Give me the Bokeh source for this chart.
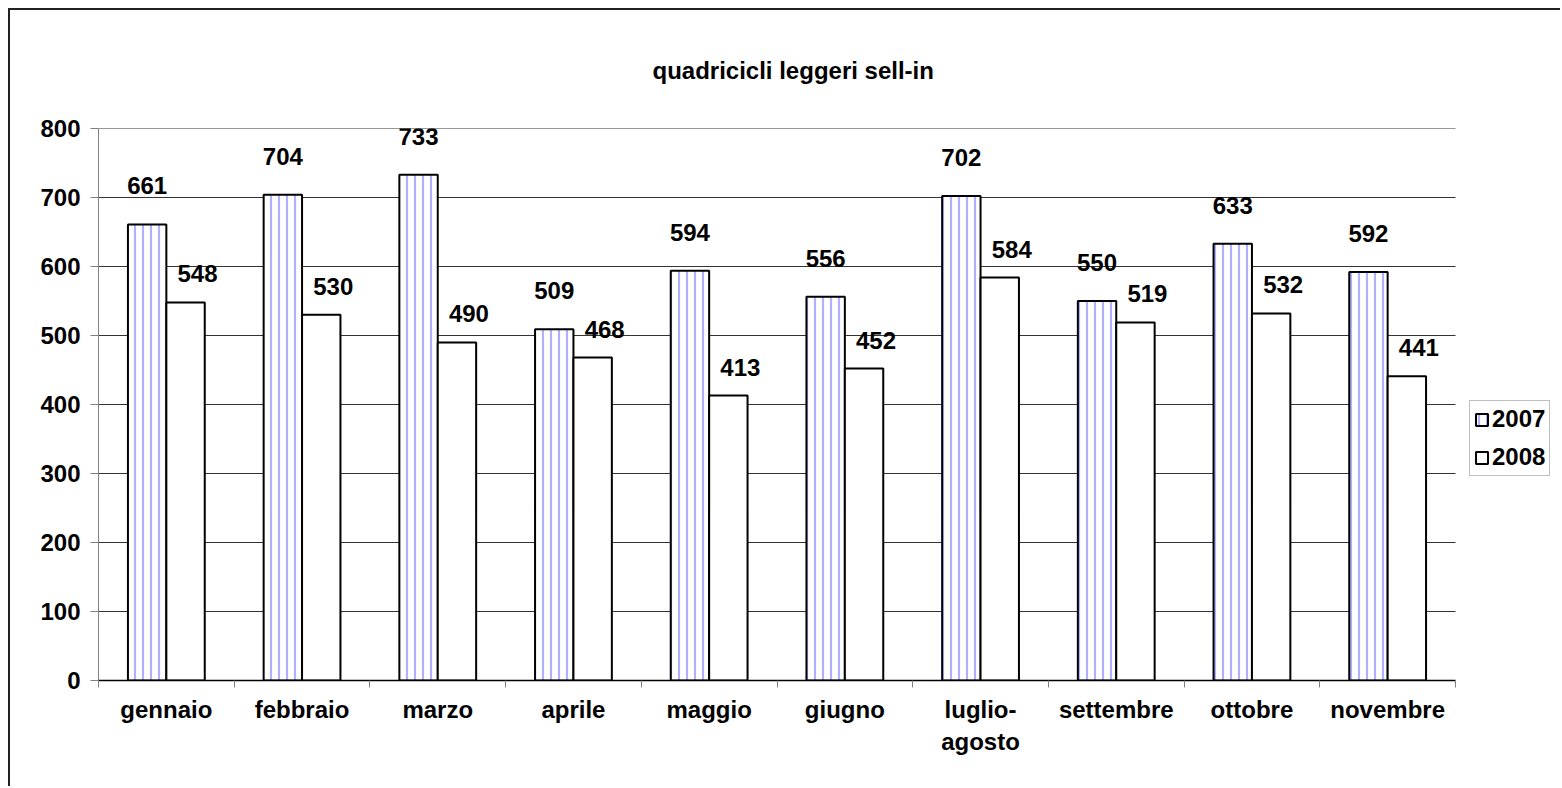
import numpy as np
from bokeh.plotting import figure
from bokeh.models import (Range1d, FixedTicker, ColumnDataSource, LabelSet,
                          Legend, LegendItem)
from bokeh.core.properties import value
from bokeh.embed import file_html
from bokeh.resources import INLINE

months = ["gennaio", "febbraio", "marzo", "aprile", "maggio", "giugno",
          "luglio-\nagosto", "settembre", "ottobre", "novembre"]
v2007 = [661, 704, 733, 509, 594, 556, 702, 550, 633, 592]
v2008 = [548, 530, 490, 468, 413, 452, 584, 519, 532, 441]
series_names = ["2007", "2008"]
y_ticks = [0, 100, 200, 300, 400, 500, 600, 700, 800]
title_text = "quadricicli leggeri sell-in"

FONT = "Liberation Sans"
FS = "24px"
n = len(months)
centers = np.arange(n) + 0.5
bw = 0.283

W, H = 1552, 778
BL, BT, BB = 88, 118, 108
cat_px = 1357                       # pixel width of the category area
frame_w = W - BL
x_end = n * frame_w / cat_px        # blank room on the right for the legend

p = figure(width=W, height=H, output_backend="svg", toolbar_location=None,
           x_range=Range1d(0, x_end), y_range=Range1d(0, 800),
           min_border_left=BL, min_border_right=0, min_border_top=BT,
           min_border_bottom=BB)
p.styles = {"margin-left": "8px", "margin-top": "8px",
            "border-left": "2px solid #222", "border-top": "2px solid #222"}
p.outline_line_color = None
p.background_fill_color = "white"
p.border_fill_color = "white"

p.title.text = title_text
p.title.align = "left"
p.title.offset = 554
p.title.standoff = 89
p.title.text_font = FONT
p.title.text_font_style = "bold"
p.title.text_font_size = FS
p.title.text_color = "black"

# horizontal grid lines limited to the category area
gy = y_ticks[1:]
p.segment(x0=[0] * len(gy), x1=[n] * len(gy), y0=gy, y1=gy,
          line_color="#333333", line_width=1)

src07 = ColumnDataSource(dict(x=centers - bw / 2, top=v2007, lbl=[str(v) for v in v2007]))
src08 = ColumnDataSource(dict(x=centers + bw / 2, top=v2008, lbl=[str(v) for v in v2008]))

r07 = p.vbar(x="x", top="top", width=bw, source=src07, fill_color="white",
             line_color="black", line_width=2, hatch_pattern="|",
             hatch_color="#b0b0ff", hatch_scale=8, hatch_weight=2.2)
r08 = p.vbar(x="x", top="top", width=bw, source=src08, fill_color="white",
             line_color="black", line_width=2)

for src, xo, yo in ((src07, 0, 30), (src08, 12, 20)):
    p.add_layout(LabelSet(x="x", y="top", text="lbl", source=src, x_offset=xo, y_offset=yo,
                          text_align="center", text_baseline="bottom",
                          text_font=value(FONT), text_font_style="bold",
                          text_font_size=value(FS), text_color="black"))

# axes
p.yaxis.ticker = FixedTicker(ticks=y_ticks)
p.yaxis.axis_line_color = "#808080"
p.yaxis.major_tick_line_color = "#808080"
p.yaxis.major_tick_out = 8
p.yaxis.major_tick_in = 0
p.yaxis.minor_tick_line_color = None
p.yaxis.major_label_standoff = 10
p.yaxis.major_label_text_font = FONT
p.yaxis.major_label_text_font_style = "bold"
p.yaxis.major_label_text_font_size = FS
p.yaxis.major_label_text_color = "black"

p.xaxis.bounds = (0, n)
p.xaxis.ticker = FixedTicker(ticks=list(centers), minor_ticks=list(range(n + 1)))
p.xaxis.major_label_overrides = {float(c): m for c, m in zip(centers, months)}
p.xaxis.axis_line_color = "black"
p.xaxis.axis_line_width = 1.5
p.xaxis.major_tick_line_color = None
p.xaxis.minor_tick_line_color = "#808080"
p.xaxis.minor_tick_out = 7
p.xaxis.minor_tick_in = 0
p.xaxis.major_label_standoff = 8
p.xaxis.major_label_text_font = FONT
p.xaxis.major_label_text_font_style = "bold"
p.xaxis.major_label_text_font_size = FS
p.xaxis.major_label_text_color = "black"

p.xgrid.grid_line_color = None
p.ygrid.grid_line_color = None

legend = Legend(items=[LegendItem(label=series_names[0], renderers=[r07]),
                       LegendItem(label=series_names[1], renderers=[r08])],
                location=(1371, 204), orientation="vertical",
                glyph_width=15, glyph_height=15, label_text_font=FONT,
                label_text_font_style="bold", label_text_font_size=FS,
                label_text_color="black",
                label_standoff=3, spacing=10, padding=4, margin=0,
                border_line_color="#808080", border_line_width=1.5,
                background_fill_color="white", background_fill_alpha=1.0)
p.add_layout(legend, "center")

open("out.html", "w").write(file_html(p, INLINE))
